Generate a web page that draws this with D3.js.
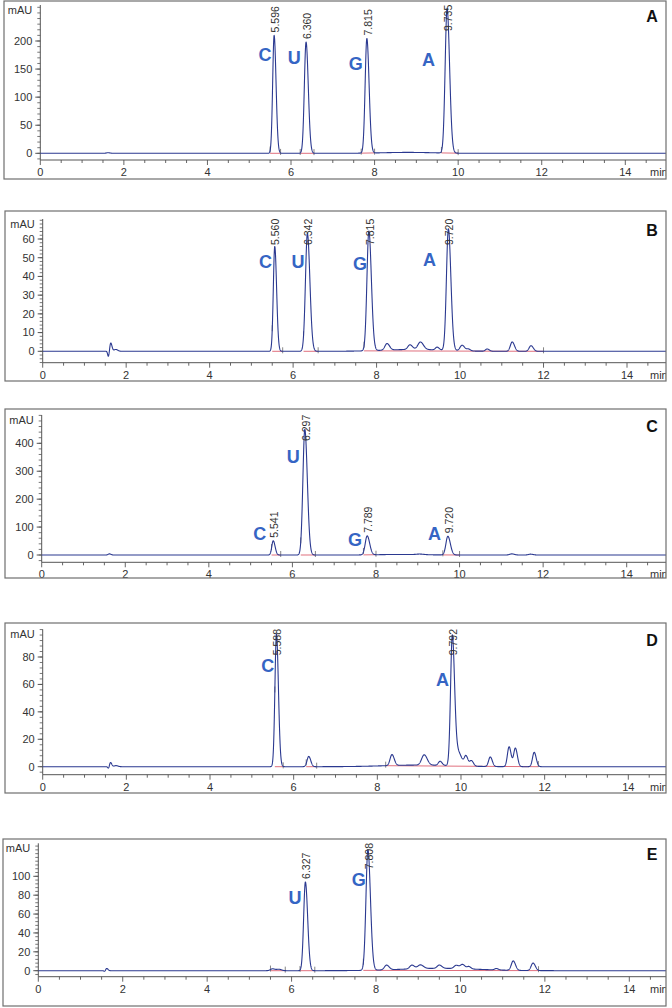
<!DOCTYPE html>
<html><head><meta charset="utf-8">
<script src="https://cdn.jsdelivr.net/npm/d3@7"></script>
<style>body{margin:0;background:#fff}svg{display:block}</style>
</head><body><svg id="c" width="672" height="1008"></svg>
<script>
// ---------------- DATA ----------------
const panelIds = ["A", "B", "C", "D", "E"];
const xTicks = [0, 2, 4, 6, 8, 10, 12, 14];

// Panel A
const mainRtA = [5.596, 6.360, 7.815, 9.735];
const mainHtA = [210, 198, 204, 258];
const mainSdA = [0.035, 0.041, 0.041, 0.046];
const baseA = ["C", "U", "G", "A"];
const baseTA = [5.38, 6.08, 7.55, 9.29];
const baseVA = [175, 171, 160, 166];
const minorA = [[1.62, 1, 0.04]];
const driftA = [[8.8, 1.6, 0.6]];
const integA = [[5.5, 5.75], [6.22, 6.55], [7.68, 8.0], [9.6, 10.0]];
const yTicksA = [0, 50, 100, 150, 200];

// Panel B
const mainRtB = [5.560, 6.342, 7.815, 9.720];
const mainHtB = [56, 63, 64, 65];
const mainSdB = [0.034, 0.046, 0.046, 0.046];
const baseB = ["C", "U", "G", "A"];
const baseTB = [5.34, 6.12, 7.60, 9.27];
const baseVB = [48, 48, 46.6, 48.8];
const minorB = [[1.575, -3, 0.018], [1.63, 4.5, 0.025], [1.75, 1, 0.04], [8.25, 3.5, 0.05], [8.8, 2.5, 0.05], [9.05, 4, 0.06],
  [9.45, 1.5, 0.04], [10.05, 3, 0.05], [10.2, 1, 0.04], [10.65, 1.2, 0.04], [11.25, 5, 0.045], [11.7, 3, 0.045]];
const driftB = [[8.9, 1.0, 0.7]];
const integB = [[5.5, 5.75], [6.25, 6.6], [7.7, 12.0]];
const yTicksB = [0, 10, 20, 30, 40, 50, 60];

// Panel C
const mainRtC = [5.541, 6.297, 7.789, 9.720];
const mainHtC = [51, 450, 68, 67];
const mainSdC = [0.034, 0.046, 0.046, 0.046];
const baseC = ["C", "U", "G", "A"];
const baseTC = [5.22, 6.02, 7.50, 9.40];
const baseVC = [75, 352, 54, 75];
const minorC = [[1.62, 4, 0.03], [9.05, 2, 0.08], [11.25, 4, 0.05], [11.7, 3, 0.05]];
const driftC = [[8.6, 2, 0.5]];
const integC = [[5.5, 5.72], [6.2, 6.55], [7.7, 8.0], [9.6, 10.0]];
const yTicksC = [0, 100, 200, 300, 400];

// Panel D
const mainRtD = [5.588, 9.792];
const mainHtD = [97, 94];
const mainSdD = [0.036, 0.041];
const baseD = ["C", "A"];
const baseTD = [5.38, 9.56];
const baseVD = [73.7, 63.8];
const minorD = [[1.575, -1.5, 0.018], [1.62, 3.2, 0.025], [1.75, 0.8, 0.04], [6.36, 7.5, 0.04], [8.35, 8, 0.045],
  [9.12, 7.5, 0.06], [9.5, 3, 0.04], [9.93, 10, 0.07], [10.12, 7, 0.04], [10.25, 4, 0.04], [10.7, 7, 0.04],
  [11.15, 14.5, 0.04], [11.3, 13.5, 0.04], [11.75, 10.5, 0.04]];
const driftD = [[9.0, 1.2, 0.8]];
const integD = [[5.55, 5.75], [6.3, 6.55], [8.2, 11.85]];
const yTicksD = [0, 20, 40, 60, 80];

// Panel E
const mainRtE = [6.327, 7.808];
const mainHtE = [94, 128];
const mainSdE = [0.041, 0.046];
const baseE = ["U", "G"];
const baseTE = [6.08, 7.59];
const baseVE = [77, 96];
const minorE = [[1.575, -1, 0.018], [1.62, 2.5, 0.025], [5.55, 2, 0.05], [5.7, 1.5, 0.05], [8.25, 5, 0.05], [8.85, 4, 0.05],
  [9.05, 4, 0.06], [9.5, 3.5, 0.05], [9.9, 3.5, 0.05], [10.05, 4.5, 0.05], [10.2, 2.5, 0.04], [10.85, 1.5, 0.04],
  [11.25, 10, 0.045], [11.72, 8, 0.045]];
const driftE = [[9.5, 2.5, 0.9]];
const integE = [[5.5, 5.85], [6.2, 6.55], [7.7, 11.85]];
const yTicksE = [0, 20, 40, 60, 80, 100];

// ---------------- LAYOUT ----------------
const layout = {
  A: {frame: [4, 1, 666, 179], x0: 40.3, x14: 625.3, y0: 153.3, yRef: [200, 41], axisTop: 5, xAxis: 160, yMinor: 10},
  B: {frame: [5, 211, 666, 381], x0: 42.7, x14: 627, y0: 351.3, yRef: [60, 239], axisTop: 219, xAxis: 362.7, yMinor: 2},
  C: {frame: [5, 409, 666, 578], x0: 41.7, x14: 626.7, y0: 555, yRef: [400, 443.3], axisTop: 415, xAxis: 562.3, yMinor: 20},
  D: {frame: [5, 623, 666, 793], x0: 42.7, x14: 628.3, y0: 766.7, yRef: [80, 657], axisTop: 629.3, xAxis: 774.7, yMinor: 4},
  E: {frame: [3, 839, 666, 1006], x0: 38.3, x14: 629.3, y0: 970.7, yRef: [100, 876.3], axisTop: 843.3, xAxis: 976.7, yMinor: 4}
};

const data = {
  A: {rt: mainRtA, ht: mainHtA, sd: mainSdA, base: baseA, bt: baseTA, bv: baseVA, minor: minorA, drift: driftA, integ: integA, yt: yTicksA},
  B: {rt: mainRtB, ht: mainHtB, sd: mainSdB, base: baseB, bt: baseTB, bv: baseVB, minor: minorB, drift: driftB, integ: integB, yt: yTicksB},
  C: {rt: mainRtC, ht: mainHtC, sd: mainSdC, base: baseC, bt: baseTC, bv: baseVC, minor: minorC, drift: driftC, integ: integC, yt: yTicksC},
  D: {rt: mainRtD, ht: mainHtD, sd: mainSdD, base: baseD, bt: baseTD, bv: baseVD, minor: minorD, drift: driftD, integ: integD, yt: yTicksD},
  E: {rt: mainRtE, ht: mainHtE, sd: mainSdE, base: baseE, bt: baseTE, bv: baseVE, minor: minorE, drift: driftE, integ: integE, yt: yTicksE}
};

const FONT = "'Liberation Sans', Arial, sans-serif";
const svg = d3.select("#c");

function gauss(t, rt, h, sd, tail) {
  const s = t < rt ? sd : sd * tail;
  return h * Math.exp(-0.5 * ((t - rt) / s) ** 2);
}

panelIds.forEach(id => {
  const L = layout[id], D = data[id];
  const [fx1, fy1, fx2, fy2] = L.frame;
  const x = d3.scaleLinear().domain([0, 14]).range([L.x0, L.x14]);
  const y = d3.scaleLinear().domain([0, L.yRef[0]]).range([L.y0, L.yRef[1]]);
  const g = svg.append("g");

  const clipId = "clip" + id;
  svg.append("clipPath").attr("id", clipId).append("rect")
    .attr("x", fx1).attr("y", fy1).attr("width", fx2 - fx1).attr("height", fy2 - fy1);
  const inner = g.append("g").attr("clip-path", `url(#${clipId})`);

  const driftAt = t => D.drift.reduce((s, p) => s + gauss(t, p[0], p[1], p[2], 1), 0);
  const signal = t => {
    let v = driftAt(t);
    D.rt.forEach((r, i) => v += gauss(t, r, D.ht[i], D.sd[i], 1.3));
    D.minor.forEach(p => v += gauss(t, p[0], p[1], p[2], 1.2));
    return v;
  };

  // axes
  const axisCol = "#555";
  const xMax = x.invert(fx2 + 2);
  inner.append("line").attr("x1", L.x0).attr("x2", fx2).attr("y1", L.xAxis).attr("y2", L.xAxis)
    .attr("stroke", axisCol).attr("stroke-width", 1);
  const xMinorTicks = d3.range(0, xMax, 0.5);
  inner.selectAll(".xt").data(xMinorTicks).join("line")
    .attr("x1", d => x(d)).attr("x2", d => x(d))
    .attr("y1", L.xAxis).attr("y2", d => L.xAxis + (d % 2 === 0 ? 5 : 3))
    .attr("stroke", axisCol).attr("stroke-width", 0.9);
  inner.selectAll(".xl").data(xTicks).join("text")
    .attr("x", d => x(d)).attr("y", L.xAxis + 16)
    .attr("text-anchor", "middle").attr("font-family", FONT).attr("font-size", 11).attr("fill", "#333")
    .text(d => d);
  inner.append("text").attr("x", fx2 - 16).attr("y", L.xAxis + 16)
    .attr("font-family", FONT).attr("font-size", 11).attr("fill", "#333").text("min");

  // y axis
  inner.append("line").attr("x1", L.x0).attr("x2", L.x0).attr("y1", L.axisTop).attr("y2", L.xAxis)
    .attr("stroke", axisCol).attr("stroke-width", 1);
  const yLow = y.invert(L.xAxis), yHigh = y.invert(L.axisTop);
  const yMinorTicks = d3.range(Math.ceil(yLow / L.yMinor) * L.yMinor, yHigh, L.yMinor);
  inner.selectAll(".ym").data(yMinorTicks).join("line")
    .attr("x1", L.x0).attr("x2", L.x0 - 3).attr("y1", d => y(d)).attr("y2", d => y(d))
    .attr("stroke", axisCol).attr("stroke-width", 0.8);
  inner.selectAll(".yM").data(D.yt).join("line")
    .attr("x1", L.x0).attr("x2", L.x0 - 5).attr("y1", d => y(d)).attr("y2", d => y(d))
    .attr("stroke", axisCol).attr("stroke-width", 1);
  inner.selectAll(".yl").data(D.yt).join("text")
    .attr("x", L.x0 - 8).attr("y", d => y(d)).attr("dy", "0.35em")
    .attr("text-anchor", "end").attr("font-family", FONT).attr("font-size", 11).attr("fill", "#333")
    .text(d => d);
  inner.append("text").attr("x", L.x0 - 8).attr("y", L.axisTop + 5).attr("dy", "0.35em")
    .attr("text-anchor", "end").attr("font-family", FONT).attr("font-size", 11).attr("fill", "#333").text("mAU");

  // integration baselines
  D.integ.forEach(([a, b]) => {
    inner.append("line").attr("x1", x(a)).attr("x2", x(b)).attr("y1", y(driftAt(a))).attr("y2", y(driftAt(b)))
      .attr("stroke", "#e0707e").attr("stroke-width", 1);
    [a, b].forEach(t => inner.append("line").attr("x1", x(t)).attr("x2", x(t))
      .attr("y1", y(signal(t)) + 2).attr("y2", y(signal(t)) - 4).attr("stroke", "#666").attr("stroke-width", 0.8));
  });

  // trace
  const ts = d3.range(0, xMax, 0.004);
  const line = d3.line().x(t => x(t)).y(t => y(signal(t)));
  inner.append("path").datum(ts).attr("d", line)
    .attr("fill", "none").attr("stroke", "#2b3990").attr("stroke-width", 1.1).attr("stroke-linejoin", "round");

  // retention time labels
  D.rt.forEach((r, i) => {
    const apex = y(signal(r));
    const bottom = Math.max(apex - 3, L.axisTop + 26);
    inner.append("text").attr("transform", `translate(${x(r) + 1},${bottom}) rotate(-90)`)
      .attr("dy", "0.35em").attr("font-family", FONT).attr("font-size", 10.5).attr("fill", "#333")
      .text(r.toFixed(3));
  });

  // nucleoside letters
  D.base.forEach((b, i) => {
    inner.append("text").attr("x", x(D.bt[i])).attr("y", y(D.bv[i])).attr("dy", "0.35em")
      .attr("text-anchor", "middle").attr("font-family", FONT).attr("font-size", 18).attr("font-weight", "bold")
      .attr("fill", "#3565c4").text(b);
  });

  // panel letter
  inner.append("text").attr("x", fx2 - 14).attr("y", L.axisTop + 11).attr("dy", "0.35em")
    .attr("text-anchor", "middle").attr("font-family", FONT).attr("font-size", 16).attr("font-weight", "bold")
    .attr("fill", "#111").text(id);

  // frame
  g.append("rect").attr("x", fx1).attr("y", fy1).attr("width", fx2 - fx1).attr("height", fy2 - fy1)
    .attr("fill", "none").attr("stroke", "#6f6f6f").attr("stroke-width", 1.2);
});
</script></body></html>
